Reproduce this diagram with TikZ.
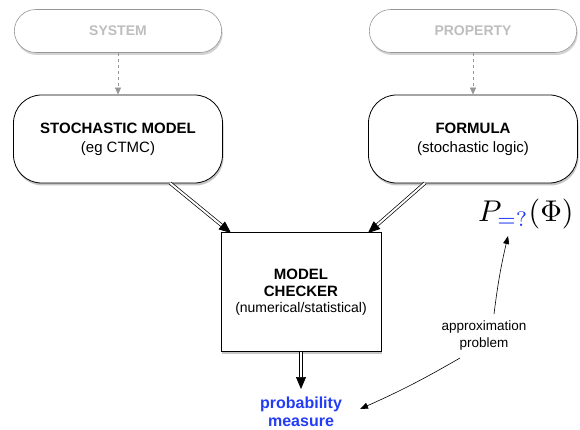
\documentclass[tikz,border=0pt]{standalone}
\usepackage{fontspec}
\setmainfont{Liberation Sans}
\usetikzlibrary{arrows.meta,shadows,shapes.misc}
\definecolor{pblue}{RGB}{35,60,245}
\definecolor{ghost}{RGB}{190,190,190}
\definecolor{ghostline}{RGB}{150,150,150}
\begin{document}
\begin{tikzpicture}[x=1pt,y=-1pt,
  pill/.style={draw=ghostline, line width=0.6pt, fill=white, rounded rectangle, minimum width=214pt, minimum height=43pt,
    drop shadow={shadow xshift=1pt, shadow yshift=-2.5pt, opacity=0.35}, font=\bfseries\fontsize{14}{16}\selectfont, text=ghost},
  mainbox/.style={draw=black, line width=0.8pt, fill=white, rounded corners=28pt, minimum width=209pt, minimum height=88pt,
    drop shadow={shadow xshift=1pt, shadow yshift=-2.5pt, opacity=0.45}, align=center, font=\fontsize{15}{19}\selectfont},
  checkbox/.style={draw=black, line width=0.7pt, fill=white, minimum width=160pt, minimum height=119pt,
    drop shadow={shadow xshift=1pt, shadow yshift=-2.5pt, opacity=0.45}, align=center, font=\fontsize{15}{19}\selectfont},
  dasharrow/.style={draw=ghostline, dashed, line width=0.6pt, -{Triangle[length=7pt,width=6pt,fill=ghostline]}},
  dblarrow/.style={double=white, double distance=2pt, line width=0.7pt, -{Triangle[length=12pt,width=10pt,fill=black]}},
  thinarrow/.style={line width=0.6pt, -{Triangle[length=8pt,width=6pt]}}
]
\useasboundingbox (0,0) rectangle (580,430);
\node[pill] (sys) at (118,31) {SYSTEM};
\node[pill] (prop) at (473,31) {PROPERTY};
\node[mainbox] (sm) at (118,139) {\textbf{STOCHASTIC MODEL}\\(eg CTMC)};
\node[mainbox] (fo) at (473,139) {\textbf{FORMULA}\\(stochastic logic)};
\node[checkbox] (mc) at (301,292) {\textbf{MODEL}\\[-2pt]\textbf{CHECKER}\\[-3pt]{\fontsize{14}{16}\selectfont(numerical/statistical)}};
\node[text=pblue, align=center, font=\bfseries\fontsize{16}{18}\selectfont, inner sep=1pt] (pm) at (301,412) {probability\\measure};
\node[inner sep=0pt, anchor=base west] (pf) at (478,222) {\scalebox{3}{$P_{\color{pblue}=?}(\Phi)$}};
\node[align=center, font=\fontsize{13.5}{17}\selectfont] (ap) at (484,336) {approximation\\problem};
\coordinate (smo) at (170,183);
\coordinate (foo) at (425,183);
\coordinate (mcl) at (231,233);
\coordinate (mcr) at (368,233);
\coordinate (apt) at (494,314);
\coordinate (apb) at (460,358);
\coordinate (pft) at (508,236);
\draw[dasharrow] (sys.south) -- (sm.north);
\draw[dasharrow] (prop.south) -- (fo.north);
\draw[dblarrow] (smo) -- (mcl);
\draw[dblarrow] (foo) -- (mcr);
\draw[dblarrow] (mc.south) -- (301,389);
\draw[thinarrow] (apt) to[bend left=3] (pft);
\draw[thinarrow] (apb) to[bend left=3] (360,409);
\end{tikzpicture}
\end{document}
